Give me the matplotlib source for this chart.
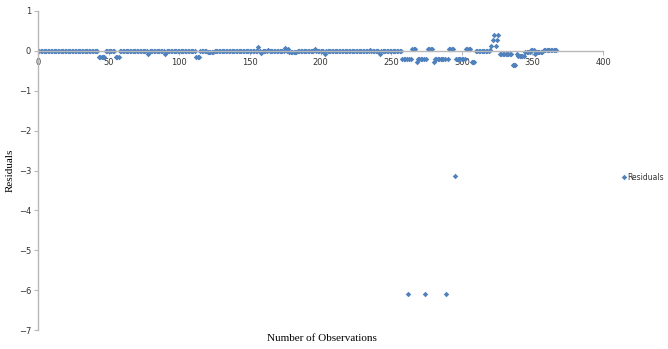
import matplotlib.pyplot as plt
import numpy as np

runs = [
    (34, 0.0), (7, -0.015), (1, 0.0), (5, -0.15), (7, 0.0), (3, -0.15),
    (20, 0.0), (1, -0.08), (11, 0.0), (1, -0.09), (21, 0.0), (3, -0.15),
    (5, 0.0), (5, -0.02), (31, 0.0), (1, 0.09), (1, 0.0), (1, -0.06),
    (4, 0.0), (1, 0.03), (11, 0.0), (1, 0.08), (1, 0.0), (1, 0.05),
    (6, -0.02), (12, 0.0), (1, 0.04), (6, 0.0), (1, -0.09), (31, 0.0),
    (1, 0.03), (6, 0.0), (1, -0.09), (15, -0.01), (7, -0.2), (3, 0.04),
    (1, -0.28), (7, -0.2), (4, 0.04), (1, -0.28), (10, -0.2), (4, 0.04),
    (8, -0.2), (4, 0.04), (3, -0.28), (10, 0.0), (1, 0.03), (1, 0.13),
    (1, 0.27), (1, 0.39), (1, 0.13), (1, 0.27), (1, 0.39), (9, -0.07),
    (3, -0.35), (1, -0.07), (5, -0.12), (4, -0.03), (3, 0.01), (1, -0.09),
    (5, -0.03), (10, 0.01),
]

# large outliers (observation number -> residual)
outlier_obs = [262, 274, 289, 295]
outlier_vals = [-6.1, -6.1, -6.1, -3.15]

residuals = []
for count, value in runs:
    residuals += [value] * count
residuals = np.array(residuals)
for o, v in zip(outlier_obs, outlier_vals):
    residuals[o - 1] = v
obs = np.arange(1, len(residuals) + 1)

fig = plt.figure(figsize=(6.68, 3.49), dpi=100)
ax = fig.add_axes([38 / 668, 19 / 349, 565 / 668, 319 / 349])

ax.plot(obs, residuals, linestyle='none', marker='D', markersize=2.8,
        color='#4F81BD', markeredgewidth=0, label='Residuals')

ax.set_xlim(0, 400)
ax.set_ylim(-7, 1)
ax.set_xticks(range(0, 401, 50))
ax.set_yticks(range(-7, 2))

ax.spines['top'].set_visible(False)
ax.spines['right'].set_visible(False)
ax.spines['bottom'].set_position(('data', 0))
for s in ['left', 'bottom']:
    ax.spines[s].set_color('#B8B8B8')
    ax.spines[s].set_linewidth(1.0)
ax.tick_params(axis='both', direction='out', length=3, width=0.8,
               color='#B8B8B8', labelsize=6, labelcolor='#333333', pad=2)

ax.set_xlabel('Number of Observations', family='Liberation Serif', fontsize=8)
ax.xaxis.set_label_coords(0.502, -0.012)
ax.set_ylabel('Residuals', family='Liberation Serif', fontsize=8)
ax.yaxis.set_label_coords(-0.042, 0.5)

ax.legend(loc='center left', bbox_to_anchor=(622 / 668, 172 / 349),
          bbox_transform=fig.transFigure, frameon=False, fontsize=5.5,
          handlelength=0.5, handletextpad=0.25, borderpad=0, borderaxespad=0,
          labelcolor='#333333')

plt.savefig('out.png')
